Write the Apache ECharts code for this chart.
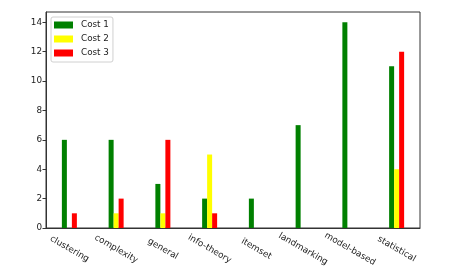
<!DOCTYPE html>
<html>
<head>
<meta charset="utf-8">
<script src="https://cdn.jsdelivr.net/npm/echarts@6/dist/echarts.min.js"></script>
<style>html,body{margin:0;padding:0;background:#fff}#c{width:459px;height:280px}</style>
</head>
<body>
<div id="c"></div>
<script>
const categories = ['clustering','complexity','general','info-theory','itemset','landmarking','model-based','statistical'];
const cost1 = [6, 6, 3, 2, 2, 7, 14, 11];
const cost2 = [0, 1, 1, 5, 0, 0, 0, 4];
const cost3 = [1, 2, 6, 1, 0, 0, 0, 12];
const seriesNames = ['Cost 1','Cost 2','Cost 3'];
const colors = ['#008000','#ffff00','#ff0000'];

const chart = echarts.init(document.getElementById('c'), null, {renderer:'canvas'});
const font = 'DejaVu Sans';
const fs = 8.8;
chart.setOption({
  animation: false,
  backgroundColor: '#fff',
  grid: {left: 46, top: 12, right: 39, bottom: 52, show: true, borderColor: '#333', borderWidth: 1, backgroundColor: 'transparent'},
  legend: {
    orient: 'vertical', left: 51, top: 17,
    data: seriesNames,
    icon: 'rect', itemWidth: 19, itemHeight: 7, itemGap: 4,
    padding: [3, 4, 4, 3],
    borderColor: '#d0d0d0', borderWidth: 1, borderRadius: 2,
    backgroundColor: 'rgba(255,255,255,0.8)',
    textStyle: {fontFamily: font, fontSize: fs, color: '#222', padding: [0,0,0,3], lineHeight: 10}
  },
  xAxis: {
    type: 'category', data: categories,
    axisLine: {lineStyle: {color: '#333', width: 1}},
    axisTick: {alignWithLabel: true, length: 3.5, lineStyle: {color: '#333'}},
    axisLabel: {rotate: -30, align: 'center', verticalAlign: 'middle', margin: 21, fontFamily: font, fontSize: fs, color: '#222', interval: 0}
  },
  yAxis: {
    type: 'value', min: 0, max: 14.7, interval: 2,
    splitLine: {show: false},
    axisLine: {show: true, lineStyle: {color: '#333', width: 1}},
    axisTick: {show: true, length: 3.5, lineStyle: {color: '#333'}},
    axisLabel: {fontFamily: font, fontSize: fs, color: '#222', margin: 4, showMaxLabel: false}
  },
  series: [cost1, cost2, cost3].map((d, i) => ({
    name: seriesNames[i], type: 'bar', data: d,
    barWidth: '10.7%', barGap: '0%',
    itemStyle: {color: colors[i]}
  }))
});
</script>
</body>
</html>
